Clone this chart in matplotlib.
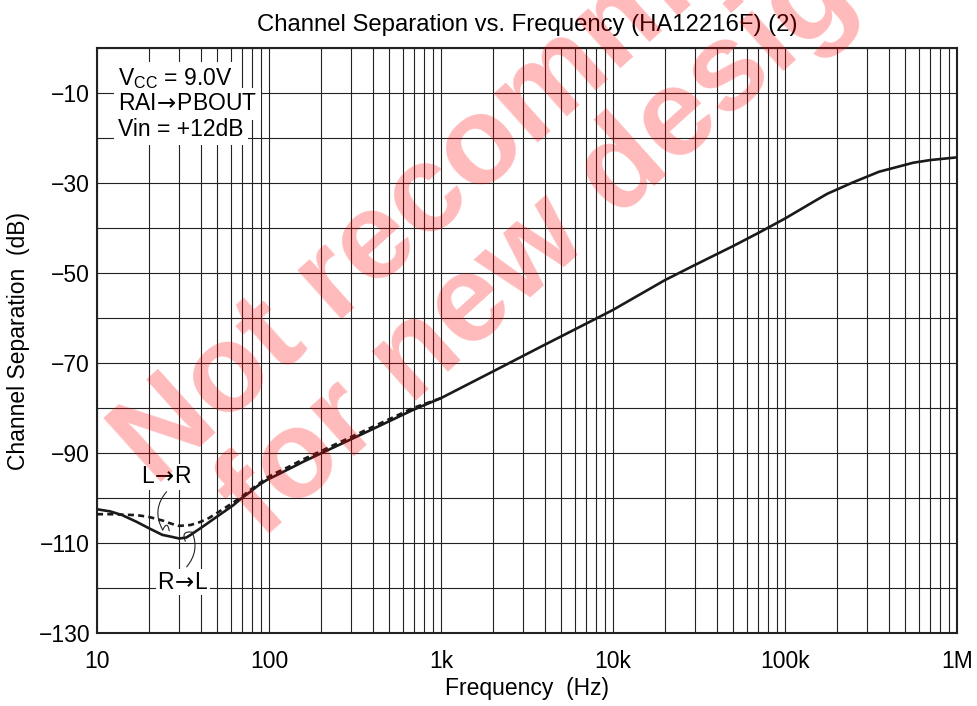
import numpy as np
import matplotlib
matplotlib.use("Agg")
import matplotlib.pyplot as plt
from matplotlib.ticker import FixedLocator, NullFormatter

plt.rcParams['font.family'] = ['Liberation Sans', 'DejaVu Sans']
plt.rcParams['mathtext.fontset'] = 'custom'
plt.rcParams['mathtext.rm'] = 'Liberation Sans'
plt.rcParams['mathtext.sf'] = 'DejaVu Sans'
plt.rcParams['axes.unicode_minus'] = True

# R->L (solid)
freq_rl = [10, 12, 14, 17, 20, 24, 27, 30, 33, 35, 40, 44, 50, 55, 62, 69, 78, 86,
           97, 111, 133, 159, 200, 390, 690, 1000, 2000, 3800, 8000, 10000, 20000,
           30000, 50000, 70000, 100000, 146000, 176000, 247000, 352000, 556000,
           700000, 1000000]
sep_rl = [-102.5, -103.0, -103.8, -105.3, -106.7, -108.2, -108.6, -109.0, -108.8,
          -108.2, -106.7, -105.6, -104.1, -103.0, -101.6, -100.1, -98.6, -97.3,
          -96.0, -94.9, -93.4, -91.9, -90.1, -84.9, -80.4, -77.8, -71.9, -66.4,
          -60.1, -58.2, -51.6, -48.2, -44.0, -41.1, -37.9, -34.2, -32.4, -29.9,
          -27.5, -25.5, -24.9, -24.3]

# L->R (dashed)
freq_lr = [10, 12, 14, 17, 20, 24, 27, 30, 35, 40, 45, 50, 55, 62, 70, 78, 87, 97,
           110, 133, 158, 200, 390, 690, 1000]
sep_lr = [-103.6, -103.6, -103.7, -103.8, -104.2, -105.0, -105.7, -106.2, -106.0,
          -105.3, -104.4, -103.3, -102.3, -101.0, -99.6, -98.2, -96.9, -95.5,
          -94.4, -92.9, -91.4, -89.6, -84.4, -80.0, -77.8]

xticks = [10, 100, 1e3, 1e4, 1e5, 1e6]
xticklabels = ['10', '100', '1k', '10k', '100k', '1M']
yticks = [-10, -30, -50, -70, -90, -110, -130]

fs = 16.5
fig = plt.figure(figsize=(9.78, 7.06), dpi=100)
ax = fig.add_axes([97/978, 1-633/706, 860/978, 585/706])
ax.set_xscale('log')
ax.set_xlim(10, 1e6)
ax.set_ylim(-130, 0)

ax.xaxis.set_major_locator(FixedLocator(xticks))
ax.set_xticklabels(xticklabels)
minor_x = [m * 10**d for d in range(1, 6) for m in range(2, 10)]
ax.xaxis.set_minor_locator(FixedLocator(minor_x))
ax.xaxis.set_minor_formatter(NullFormatter())
ax.set_yticks(yticks)
ax.set_yticklabels(['\u2212%d' % abs(v) for v in yticks])
ax.yaxis.set_minor_locator(FixedLocator(list(range(-120, 1, 20))))

ax.grid(True, which='both', color='#222222', lw=0.8)
ax.set_axisbelow(True)
ax.tick_params(which='both', length=0, labelsize=fs)
ax.tick_params(axis='x', pad=12)
ax.tick_params(axis='y', pad=5)
for s in ax.spines.values():
    s.set_linewidth(1.5)
    s.set_color('#222222')

ax.plot(freq_rl, sep_rl, color='#1a1a1a', lw=1.9, zorder=3)
ax.plot(freq_lr, sep_lr, color='#1a1a1a', lw=1.9, ls=(0, (2.3, 1.6)), zorder=3)

ax.set_title('Channel Separation vs. Frequency (HA12216F) (2)', fontsize=17.2, pad=12)
ax.set_xlabel('Frequency  (Hz)', fontsize=fs, labelpad=3)
ax.set_ylabel('Channel Separation  (dB)', fontsize=fs, labelpad=6)

arrow = r'$\!\mathsf{\rightarrow}\!$'

# condition box
box = dict(facecolor='white', edgecolor='none', pad=3)
cond = [r'V$_{\mathregular{CC}}$ = 9.0V', 'RAI' + arrow + 'PBOUT', 'Vin = +12dB']
for i, t in enumerate(cond):
    ax.text(0.0244, (633 - (85 + 25.5 * i)) / 585, t, transform=ax.transAxes,
            fontsize=fs, ha='left', va='baseline', bbox=box, zorder=5)

# curve labels
ax.text(25.5, -95.3, 'L' + arrow + 'R', fontsize=fs, ha='center', va='center',
        bbox=dict(facecolor='white', edgecolor='none', pad=1), zorder=5)
ax.text(31.6, -118.7, 'R' + arrow + 'L', fontsize=fs, ha='center', va='center',
        bbox=dict(facecolor='white', edgecolor='none', pad=1), zorder=5)
lp = dict(arrowstyle='-', lw=0.8, color='#222222', shrinkA=0, shrinkB=0)
ax.annotate('', xy=(24.1, -107.1), xytext=(25.4, -98.6),
            arrowprops=dict(lp, connectionstyle='arc3,rad=0.35'), zorder=4)
ax.annotate('', xy=(26.3, -107.3), xytext=(24.1, -107.1),
            arrowprops=dict(lp, connectionstyle='arc3,rad=-1.6'), zorder=4)
ax.annotate('', xy=(35.8, -107.6), xytext=(33.2, -115.3),
            arrowprops=dict(lp, connectionstyle='arc3,rad=0.3'), zorder=4)
ax.annotate('', xy=(32.6, -109.6), xytext=(35.8, -107.6),
            arrowprops=dict(lp, connectionstyle='arc3,rad=0.9'), zorder=4)

# watermark
wm = dict(fontsize=90, fontweight='bold', color='red', alpha=0.27, rotation=42,
          rotation_mode='anchor', ha='left', va='baseline', zorder=10)
fig.text(155/978, 1-487/706, 'Not recommended', **wm)
fig.text(261/978, 1-541/706, 'for new designs', **wm)

fig.savefig('out.png', dpi=100)
